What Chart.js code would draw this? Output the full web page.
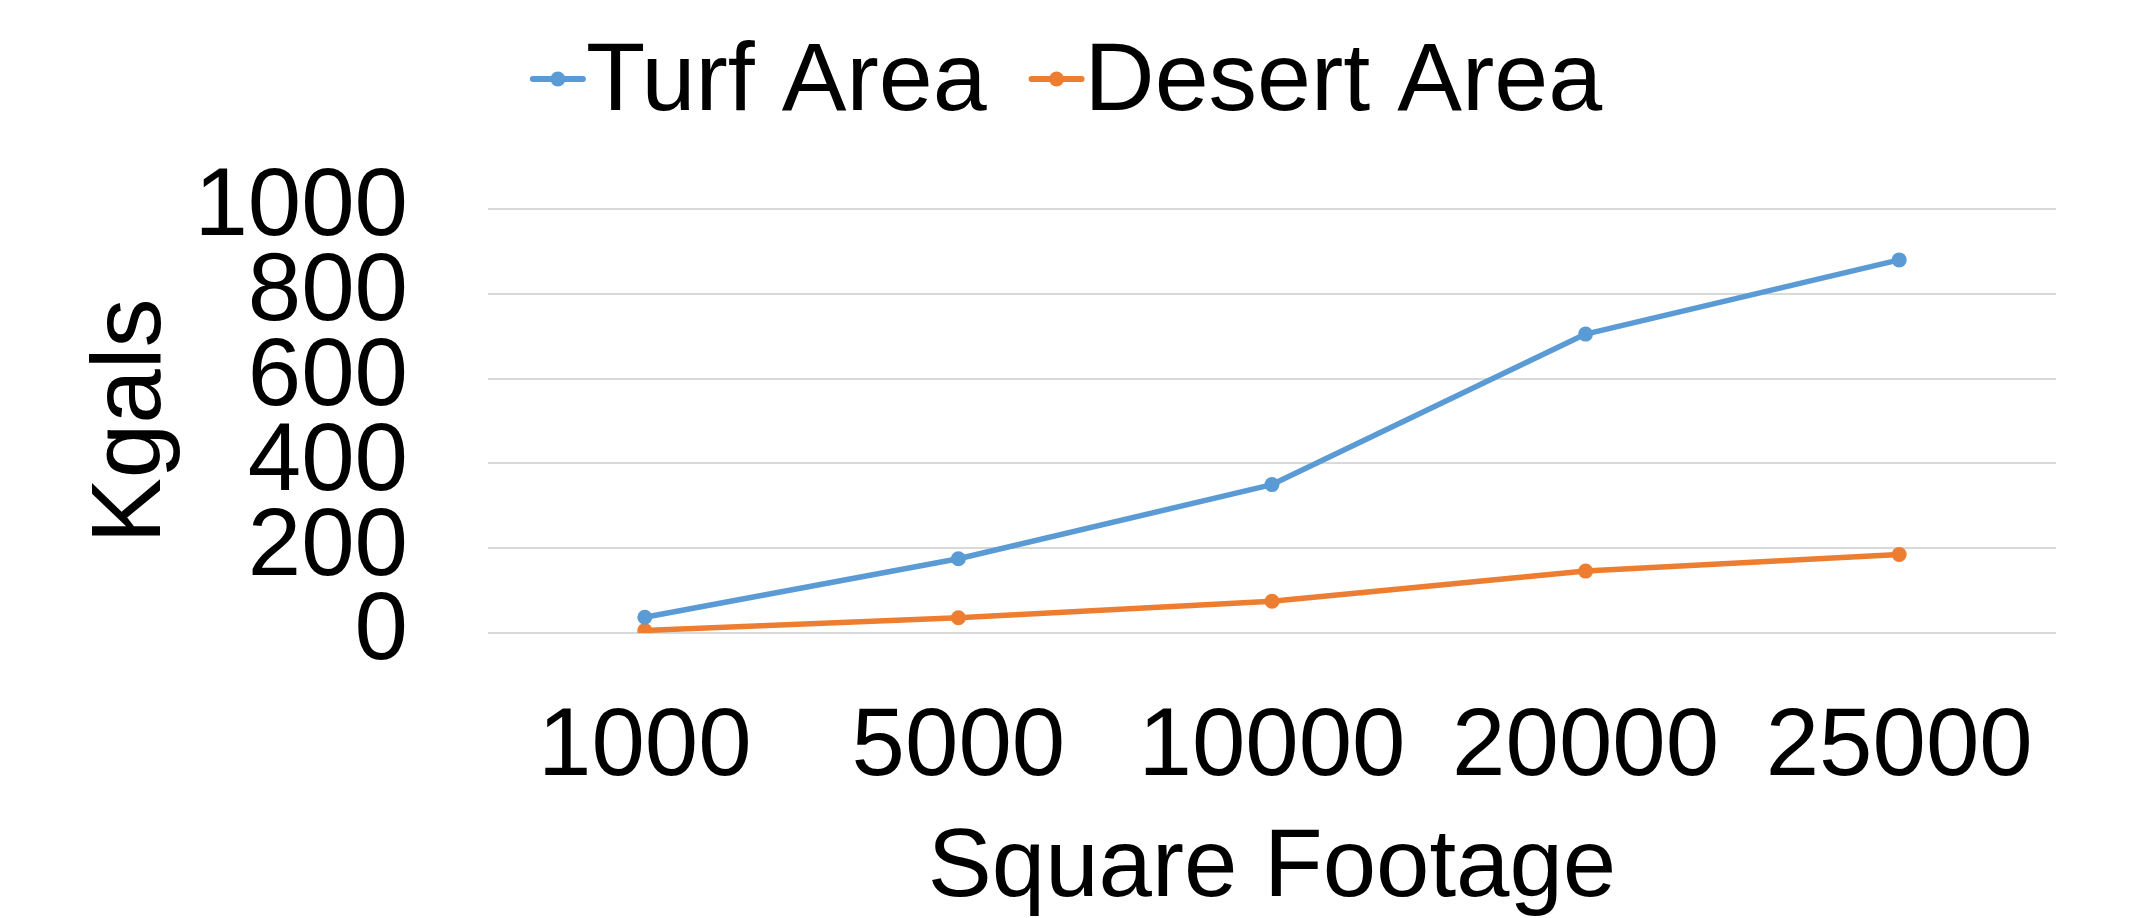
<!DOCTYPE html>
<html>
<head>
<meta charset="utf-8">
<script src="https://cdn.jsdelivr.net/npm/chart.js@4.4.1/dist/chart.umd.min.js"></script>
<style>
  html, body { margin: 0; padding: 0; background: #fff; }
  #wrap { width: 2138px; height: 918px; }
</style>
</head>
<body>
<div id="wrap"><canvas id="grafico" width="2138" height="918"></canvas></div>
<script>
// data
const categorias = ['1000', '5000', '10000', '20000', '25000'];
const turfArea = [37, 175, 350, 705, 880];
const desertArea = [6, 36, 75, 146, 185];
const nomesSeries = ['Turf Area', 'Desert Area'];
const coresSeries = ['#5B9BD5', '#ED7D31'];
const yMin = 0, yMax = 1000, yPasso = 200;

const fonte = "'Liberation Sans', Arial, sans-serif";
Chart.defaults.font.family = fonte;
Chart.defaults.color = '#000';

// legend with a short line + dot, like the office chart
const legendaLinha = {
    id: 'legendaLinha',
    afterDraw(chart) {
        const ctx = chart.ctx;
        const sets = chart.data.datasets;
        const marca = 56, espaco = 42;
        ctx.save();
        ctx.font = '97px ' + fonte;
        ctx.textBaseline = 'alphabetic';
        const larguras = sets.map(d => ctx.measureText(d.label).width);
        const total = larguras.reduce((a, b) => a + b, 0) + sets.length * marca + espaco * (sets.length - 1);
        let x = 1066 - total / 2;
        sets.forEach((d, i) => {
            ctx.strokeStyle = d.borderColor;
            ctx.lineWidth = 6;
            ctx.lineCap = 'round';
            ctx.beginPath();
            ctx.moveTo(x + 3, 79);
            ctx.lineTo(x + marca - 3, 79);
            ctx.stroke();
            ctx.fillStyle = d.borderColor;
            ctx.beginPath();
            ctx.arc(x + marca / 2, 79, 7.5, 0, Math.PI * 2);
            ctx.fill();
            ctx.fillStyle = '#000';
            ctx.fillText(d.label, x + marca, 110);
            x += marca + larguras[i] + espaco;
        });
        ctx.restore();
    }
};

const serie = (nome, valores, cor) => ({
    label: nome,
    data: valores,
    borderColor: cor,
    backgroundColor: cor,
    borderWidth: 5.5,
    borderJoinStyle: 'round',
    borderCapStyle: 'round',
    pointRadius: 7.5,
    pointBorderWidth: 0,
    pointBackgroundColor: cor,
    tension: 0,
    fill: false
});

new Chart(document.getElementById('grafico').getContext('2d'), {
    type: 'line',
    data: {
        labels: categorias,
        datasets: [
            serie(nomesSeries[0], turfArea, coresSeries[0]),
            serie(nomesSeries[1], desertArea, coresSeries[1])
        ]
    },
    options: {
        responsive: false,
        animation: false,
        devicePixelRatio: 1,
        layout: { padding: { top: 209, right: 82, bottom: 0, left: 0 } },
        plugins: {
            legend: { display: false },
            tooltip: { enabled: false }
        },
        scales: {
            x: {
                offset: true,
                grid: { display: false, drawTicks: false },
                border: { display: false },
                ticks: { font: { size: 96 }, padding: 58, maxRotation: 0, autoSkip: false },
                title: {
                    display: true,
                    text: 'Square Footage',
                    font: { size: 96, lineHeight: 1.0 },
                    padding: 0
                },
                afterFit: s => { s.height = 285; }
            },
            y: {
                min: yMin,
                max: yMax,
                grid: { color: '#d9d9d9', lineWidth: 2, drawTicks: false },
                border: { display: false },
                ticks: {
                    stepSize: yPasso,
                    font: { size: 96 },
                    padding: 80,
                    autoSkip: false,
                    callback: v => String(v)
                },
                title: {
                    display: true,
                    text: 'Kgals',
                    font: { size: 98, lineHeight: 1.2 },
                    padding: { top: 74, bottom: 0 }
                },
                afterFit: s => { s.width = 488; }
            }
        }
    },
    plugins: [legendaLinha]
});
</script>
</body>
</html>
